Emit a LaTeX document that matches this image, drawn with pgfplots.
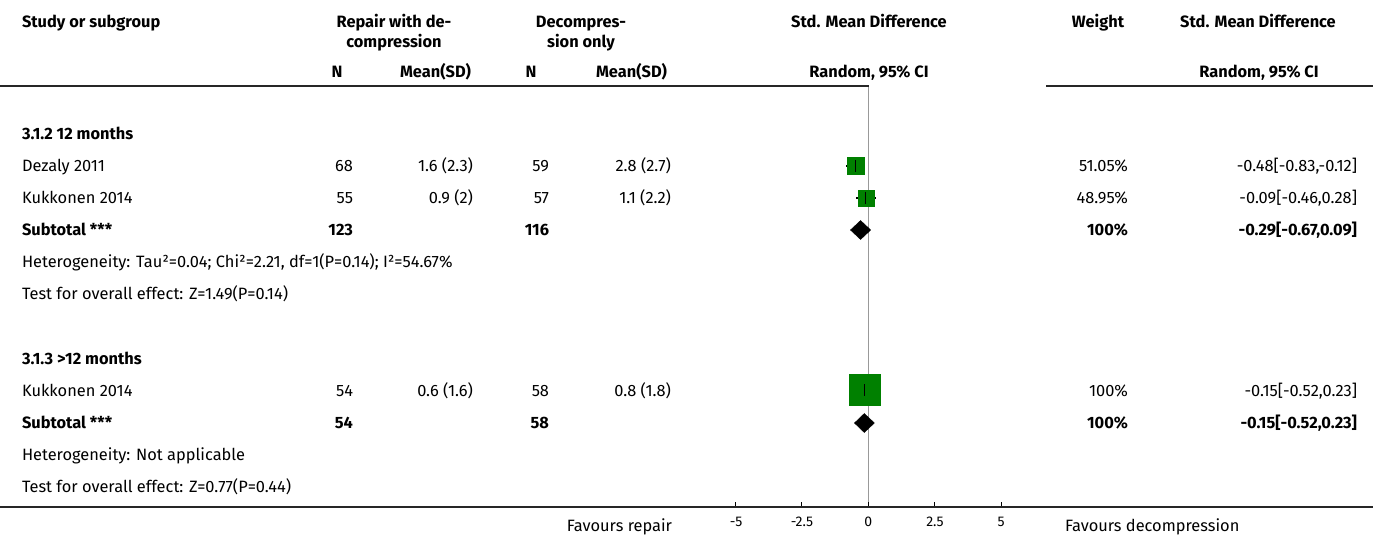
\documentclass[border=0pt]{standalone}
\usepackage{fontspec}
\setmainfont{Fira Sans}
\usepackage{pgfplots}
\pgfplotsset{compat=1.18}
\definecolor{fgreen}{RGB}{0,128,0}
\begin{document}
\fontsize{16.4}{19}\selectfont
\begin{tikzpicture}
\begin{axis}[scale only axis, width=1373pt, height=537pt,
  xmin=-32.643, xmax=18.974, ymin=0, ymax=537, y dir=reverse,
  axis lines=none, clip=false, anchor=south west, at={(0pt,0pt)}]
% zero line
\addplot[gray!80, line width=1pt] coordinates {(0,86) (0,507)};
% study squares (side proportional to weight)
\addplot[only marks, mark=square*, mark size=8.5pt, fgreen] coordinates {(-0.48,166)};
\addplot[only marks, mark=square*, mark size=8pt, fgreen] coordinates {(-0.09,198)};
\addplot[only marks, mark=square*, mark size=15.5pt, fgreen] coordinates {(-0.15,390)};
% confidence intervals
\addplot[black, line width=1.2pt] coordinates {(-0.83,166) (-0.12,166)};
\addplot[black, line width=1.2pt] coordinates {(-0.46,198) (0.28,198)};
\addplot[black, line width=1.2pt] coordinates {(-0.52,390) (0.23,390)};
\addplot[only marks, mark=|, mark size=6pt, black, mark options={line width=1.1pt}] coordinates {(-0.48,166) (-0.09,198) (-0.15,390)};
% subtotal diamonds
\addplot[fill=black, draw=black] coordinates {(-0.67,230) (-0.29,220.5) (0.09,230) (-0.29,239.5)} --cycle;
\addplot[fill=black, draw=black] coordinates {(-0.52,423) (-0.15,413.5) (0.23,423) (-0.15,432.5)} --cycle;
% forest axis ticks
\addplot[black, line width=1pt] coordinates {(-5,507) (-5,502)};
\addplot[black, line width=1pt] coordinates {(-2.5,507) (-2.5,502)};
\addplot[black, line width=1pt] coordinates {(0,507) (0,502)};
\addplot[black, line width=1pt] coordinates {(2.5,507) (2.5,502)};
\addplot[black, line width=1pt] coordinates {(5,507) (5,502)};
\end{axis}
\begin{scope}[x=1pt,y=-1pt,shift={(0pt,537pt)}]
\tikzset{every node/.style={inner sep=0pt, outer sep=0pt}}
% lines
\draw[line width=1.5pt, black!85] (0,86) -- (869,86);
\draw[line width=1.5pt, black!85] (1046,86) -- (1373,86);
\draw[line width=1.5pt, black!85] (0,507) -- (1373,507);
% header
\node[anchor=base west] at (22,28) {\bfseries Study or subgroup};
\node[anchor=base] at (394,28) {\bfseries Repair with de-};
\node[anchor=base] at (394,48) {\bfseries compression};
\node[anchor=base] at (581,28) {\bfseries Decompres-};
\node[anchor=base] at (581,48) {\bfseries sion only};
\node[anchor=base] at (337,78) {\bfseries N};
\node[anchor=base east] at (471,78) {\bfseries Mean(SD)};
\node[anchor=base] at (531,78) {\bfseries N};
\node[anchor=base east] at (667,78) {\bfseries Mean(SD)};
\node[anchor=base] at (869,28) {\bfseries Std. Mean Difference};
\node[anchor=base] at (869,78) {\bfseries Random, 95\% CI};
\node[anchor=base] at (1098,28) {\bfseries Weight};
\node[anchor=base] at (1258,28) {\bfseries Std. Mean Difference};
\node[anchor=base] at (1259,78) {\bfseries Random, 95\% CI};
% group 1
\node[anchor=base west] at (22,140) {\bfseries 3.1.2 12 months};
\node[anchor=base west] at (22,172) {Dezaly 2011};
\node[anchor=base east] at (353,172) {68};
\node[anchor=base east] at (473,172) {1.6 (2.3)};
\node[anchor=base east] at (549,172) {59};
\node[anchor=base east] at (671,172) {2.8 (2.7)};
\node[anchor=base east] at (1128,172) {51.05\%};
\node[anchor=base east] at (1357,172) {-0.48[-0.83,-0.12]};
\node[anchor=base west] at (22,204) {Kukkonen 2014};
\node[anchor=base east] at (353,204) {55};
\node[anchor=base east] at (473,204) {0.9 (2)};
\node[anchor=base east] at (549,204) {57};
\node[anchor=base east] at (671,204) {1.1 (2.2)};
\node[anchor=base east] at (1128,204) {48.95\%};
\node[anchor=base east] at (1357,204) {-0.09[-0.46,0.28]};
\node[anchor=base west] at (22,236) {\bfseries Subtotal ***};
\node[anchor=base east] at (353,236) {\bfseries 123};
\node[anchor=base east] at (549,236) {\bfseries 116};
\node[anchor=base east] at (1128,236) {\bfseries 100\%};
\node[anchor=base east] at (1357,236) {\bfseries -0.29[-0.67,0.09]};
\node[anchor=base west] at (22,268) {Heterogeneity: Tau²=0.04; Chi²=2.21, df=1(P=0.14); I²=54.67\%};
\node[anchor=base west] at (22,300) {Test for overall effect: Z=1.49(P=0.14)};
% group 2
\node[anchor=base west] at (22,365) {\bfseries 3.1.3 >12 months};
\node[anchor=base west] at (22,397) {Kukkonen 2014};
\node[anchor=base east] at (353,397) {54};
\node[anchor=base east] at (473,397) {0.6 (1.6)};
\node[anchor=base east] at (549,397) {58};
\node[anchor=base east] at (671,397) {0.8 (1.8)};
\node[anchor=base east] at (1128,397) {100\%};
\node[anchor=base east] at (1357,397) {-0.15[-0.52,0.23]};
\node[anchor=base west] at (22,429) {\bfseries Subtotal ***};
\node[anchor=base east] at (353,429) {\bfseries 54};
\node[anchor=base east] at (549,429) {\bfseries 58};
\node[anchor=base east] at (1128,429) {\bfseries 100\%};
\node[anchor=base east] at (1357,429) {\bfseries -0.15[-0.52,0.23]};
\node[anchor=base west] at (22,461) {Heterogeneity: Not applicable};
\node[anchor=base west] at (22,493) {Test for overall effect: Z=0.77(P=0.44)};
% bottom
{\fontsize{14}{16}\selectfont
\node[anchor=base] at (736,527) {-5};
\node[anchor=base] at (802,527) {-2.5};
\node[anchor=base] at (868.3,527) {0};
\node[anchor=base] at (935,527) {2.5};
\node[anchor=base] at (1001,527) {5};
}
\node[anchor=base east] at (672,532) {Favours repair};
\node[anchor=base west] at (1065,532) {Favours decompression};
\end{scope}
\pgfresetboundingbox
\path[use as bounding box] (0pt,0pt) rectangle (1373pt,537pt);
\end{tikzpicture}
\end{document}
